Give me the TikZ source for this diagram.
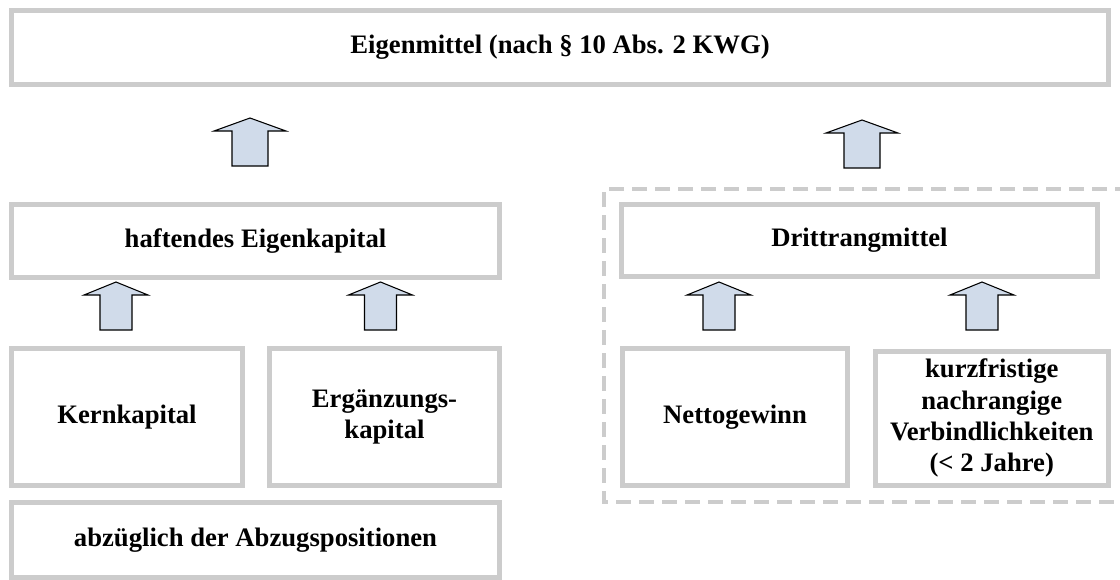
\documentclass[tikz,border=0pt]{standalone}
\usepackage{fontspec}
\setmainfont{Liberation Serif}
\definecolor{boxgray}{HTML}{CCCCCC}
\definecolor{arrowfill}{RGB}{208,219,234}
\tikzset{
  box/.style={draw=boxgray, line width=3.75pt, inner sep=0pt, align=center,
    font=\bfseries\fontsize{20}{23.5}\selectfont},
  size/.style 2 args={minimum width=#1*0.75pt, minimum height=#2*0.75pt},
  blockarrow/.style={draw=black, line width=0.8pt, fill=arrowfill, line join=miter},
  groupframe/.style={draw=boxgray, line width=3.5pt, dash pattern=on 11.25pt off 6pt},
  pics/uparrow/.style n args={3}{code={
    \draw[blockarrow] (-#1,0) -- (-#1,-#3) -- (-#2,-#3) -- (0,-#3-13) -- (#2,-#3) -- (#1,-#3) -- (#1,0) -- cycle;
  }},
}
\begin{document}
\begin{tikzpicture}[x=0.75pt,y=-0.75pt]
\useasboundingbox (0,0) rectangle (1120,579);

% dashed group frame (right side runs off the picture)
\coordinate (gtr) at (1130,189);
\coordinate (gtl) at (604,189);
\coordinate (gbl) at (604,502);
\coordinate (gbr) at (1130,502);
\draw[groupframe] (gtr) -- (gtl) -- (gbl) -- (gbr);

\node[box, size={1097}{74}] (eigen) at (560,47.5) {Eigenmittel (nach § 10 Abs. 2 KWG)};

\node[box, size={488}{73}] (haft) at (255.5,241) {haftendes Eigenkapital};
\node[box, size={476}{72}] (dritt) at (859.5,240.5) {Drittrangmittel};

\node[box, size={231}{137}] (kern) at (127,417) {Kernkapital};
\node[box, size={230}{137}] (ergaenz) at (384.5,417) {Ergänzungs-\\kapital};
\node[box, size={225}{137}] (netto) at (735,417) {Nettogewinn};
\node[box, size={233.5}{134.5}] (kurz) at (991.75,418.25) {kurzfristige\\nachrangige\\Verbindlichkeiten\\(< 2 Jahre)};

\node[box, size={488}{74.5}] (abzug) at (255.5,539.75) {abzüglich der Abzugspositionen};

% block arrows
\pic at (250,166) {uparrow={18}{36}{35}};
\pic at (862,168) {uparrow={18}{36}{35}};
\pic at (116,330) {uparrow={16}{32}{35}};
\pic at (380.5,330) {uparrow={16}{32}{35}};
\pic at (719,330) {uparrow={16}{32}{35}};
\pic at (982,330) {uparrow={16}{32}{35}};
\end{tikzpicture}
\end{document}
